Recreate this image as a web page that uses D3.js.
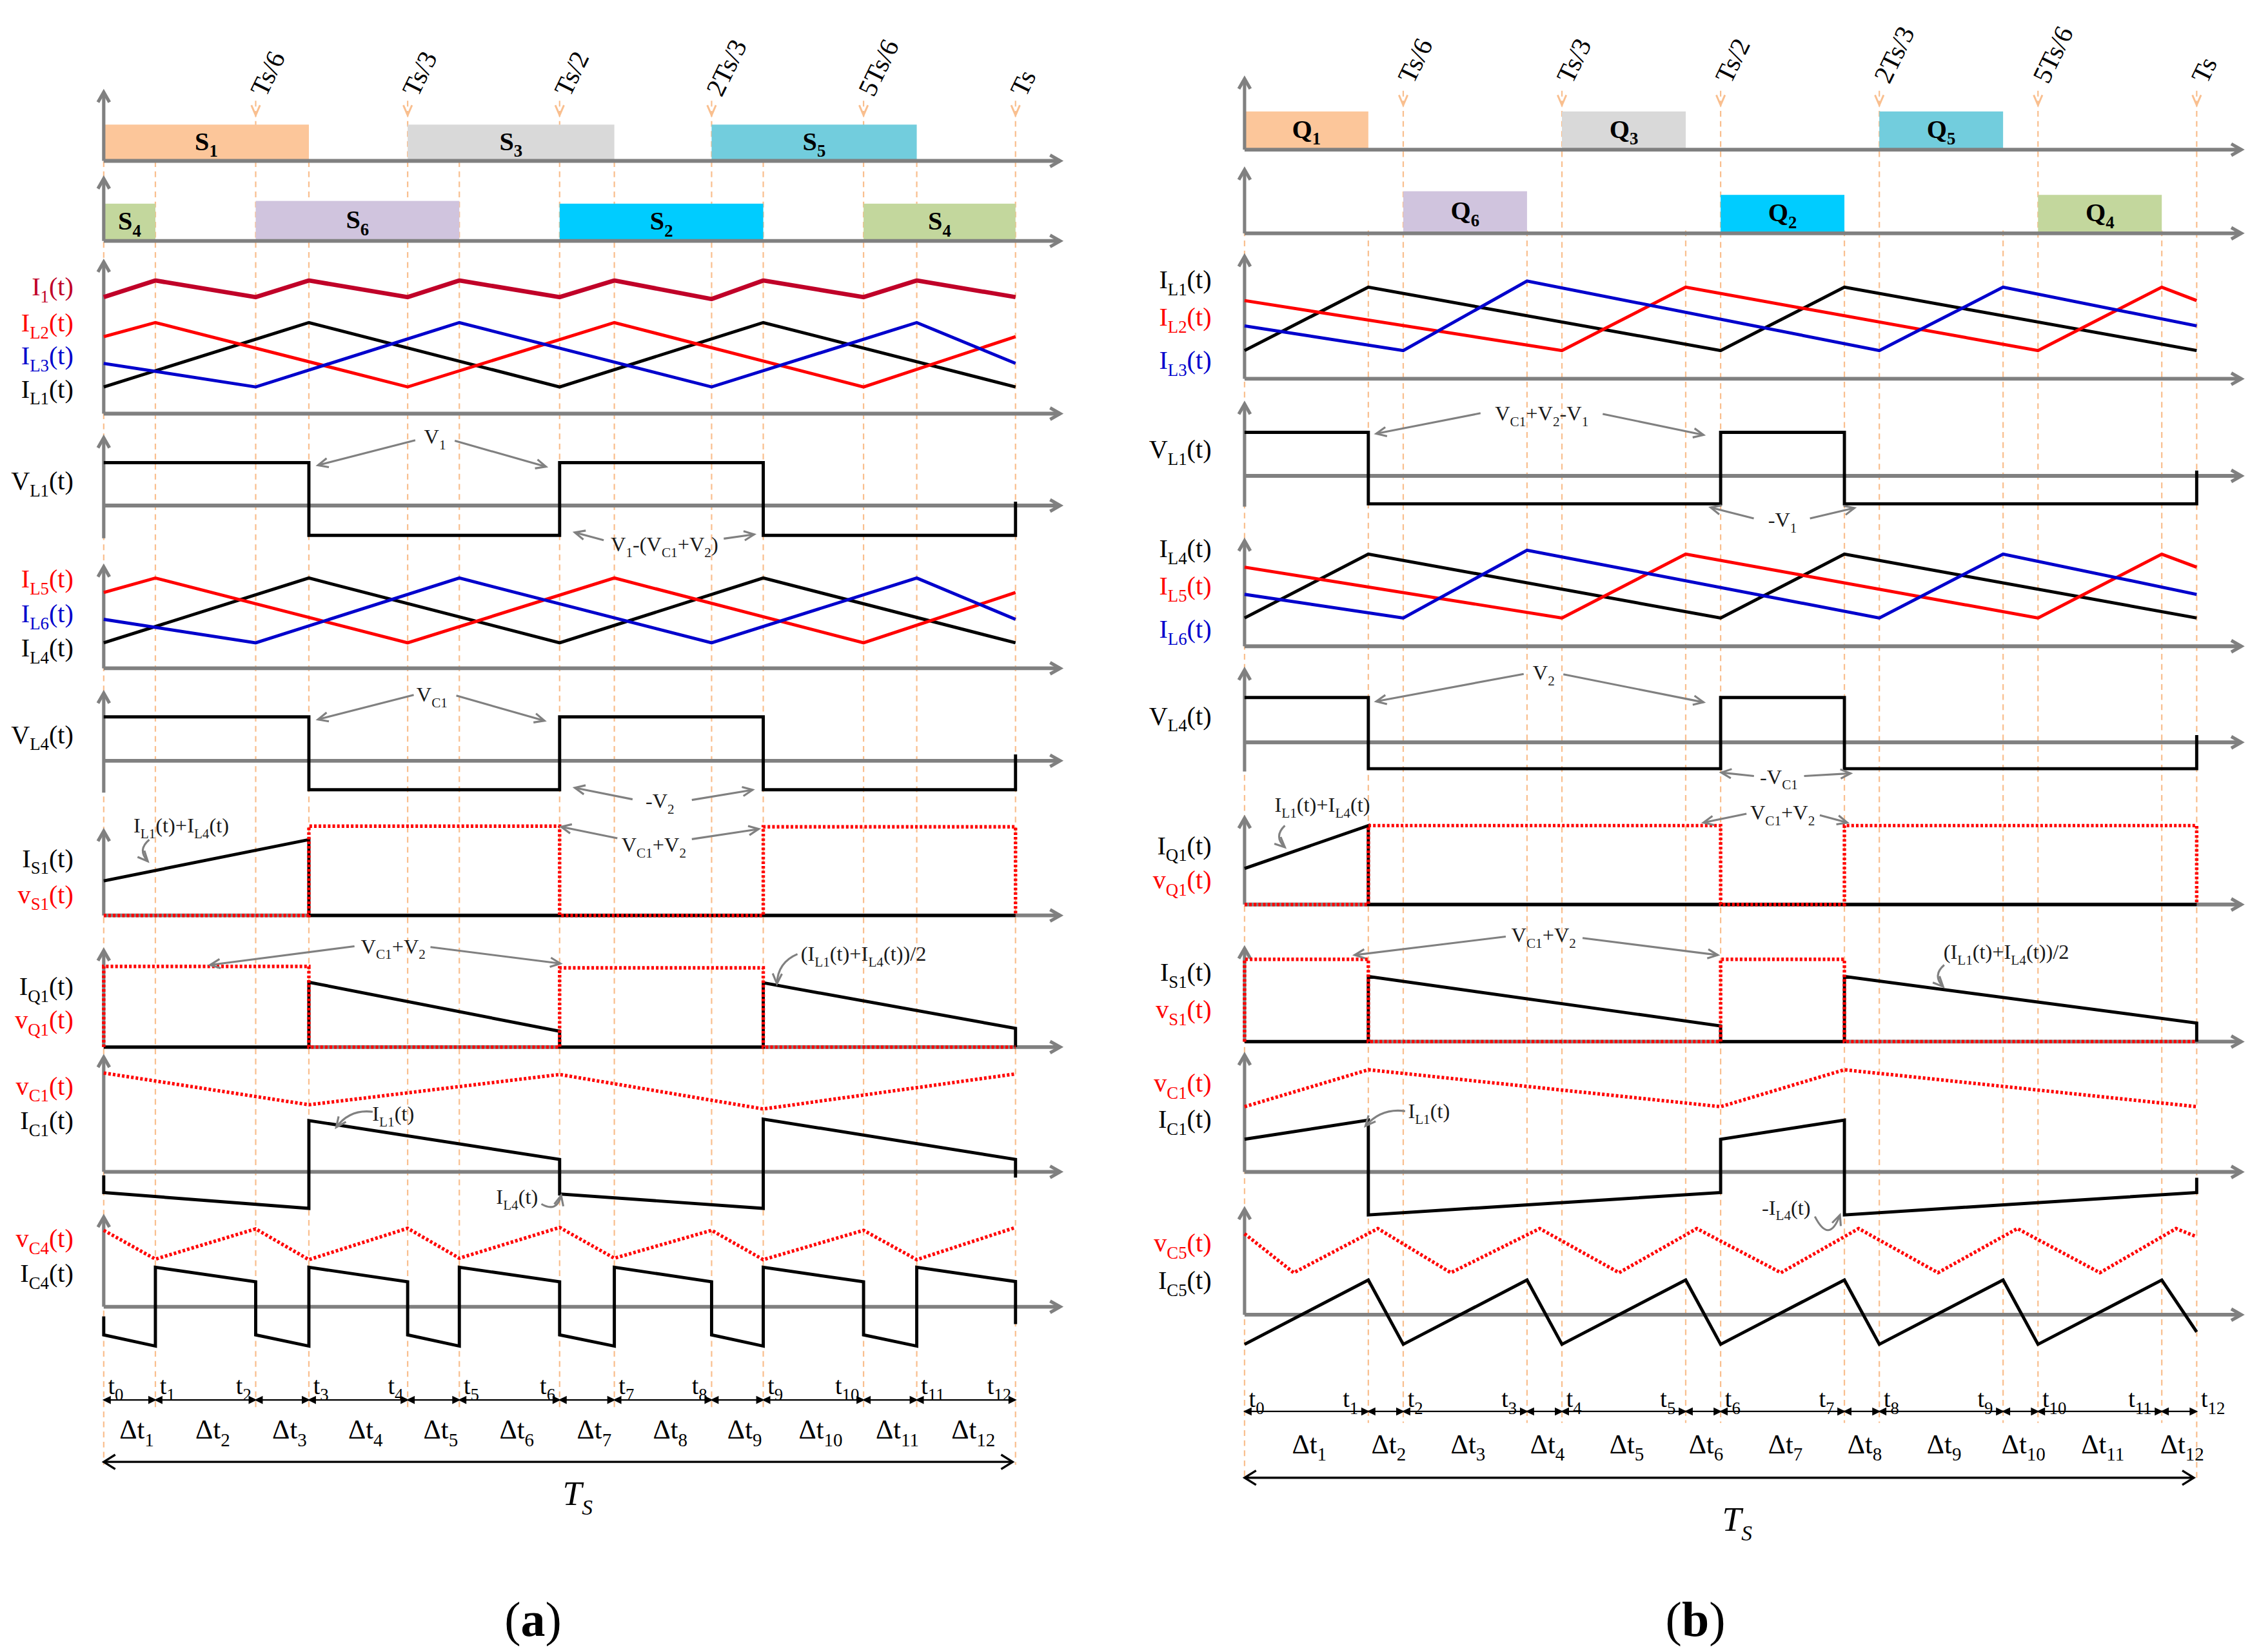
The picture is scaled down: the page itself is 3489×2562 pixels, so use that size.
<!DOCTYPE html>
<html><head><meta charset="utf-8">
<script src="https://cdn.jsdelivr.net/npm/d3@7"></script>
<style>html,body{margin:0;padding:0;background:#fff;}svg{display:block;}</style>
</head><body>
<svg id="chart"></svg>
<script>
// ================= DATA =================
// switching instants t0..t12 in units of Ts/6
const tA = [0,0.34,1,1.35,2,2.34,3,3.36,4,4.34,5,5.35,6];
const tB = [0,0.78,1,1.78,2,2.78,3,3.78,4,4.78,5,5.78,6];
const periodIdx = [2,4,6,8,10,12];
const periodLabels = ["Ts/6","Ts/3","Ts/2","2Ts/3","5Ts/6","Ts"];
const tLabels = d3.range(13).map(i => "t_{" + i + "}");
const dtLabels = d3.range(1,13).map(i => "\u0394t_{" + i + "}");

// gate signals: [name, on-instant, off-instant, level]
const gatesA1 = [["S1",0,3,52.8],["S3",4,7,52.8],["S5",8,11,52.8]];
const gatesA2 = [["S4",0,1,59.8],["S6",2,5,64.2],["S2",6,9,59.8],["S4",10,12,59.8]];
const gatesB1 = [["Q1",0,1,53.9],["Q3",4,5,53.9],["Q5",8,9,53.9]];
const gatesB2 = [["Q6",2,3,66.1],["Q2",6,7,60.4],["Q4",10,11,60.4]];

// waveforms: [instant index, level]
const A3_I1  = [[0,76.8],[1,87.7],[2,76.8],[3,87.7],[4,76.8],[5,87.7],[6,76.8],[7,87.7],[8,75.5],[9,87.7],[10,76.8],[11,87.7],[12,76.8]];
const A3_IL1 = [[0,17.6],[3,60],[6,17.6],[9,60],[12,17.6]];
const A3_IL2 = [[0,50.7],[1,60],[4,17.6],[7,60],[10,17.6],[12,50.7]];
const A3_IL3 = [[0,33.1],[2,17.6],[5,60],[8,17.6],[11,60],[12,33.1]];
const A4_VL1 = [[0,63.3],[3,63.3],[3,-43.9],[6,-43.9],[6,63.3],[9,63.3],[9,-43.9],[12,-43.9],[12,5.7]];
const A5_IL4 = [[0,25.1],[3,88.9],[6,25.1],[9,88.9],[12,25.1]];
const A5_IL5 = [[0,74.6],[1,88.9],[4,25.1],[7,88.9],[10,25.1],[12,74.6]];
const A5_IL6 = [[0,48.2],[2,25.1],[5,88.9],[8,25.1],[11,88.9],[12,48.2]];
const A6_VL4 = [[0,64.9],[3,64.9],[3,-42.8],[6,-42.8],[6,64.9],[9,64.9],[9,-42.8],[12,-42.8],[12,9.4]];
const A7_IS1 = [[0,41],[3,89.8],[3,0],[12,0]];
const A7_vS1 = [[0,0],[3,0],[3,105.8],[6,105.8],[6,0],[9,0],[9,105],[12,105],[12,0]];
const A8_IQ1 = [[0,0],[3,0],[3,67.2],[6,16.4],[6,0],[9,0],[9,66.6],[12,19.4],[12,0]];
const A8_vQ1 = [[0,0],[0,83.6],[3,83.6],[3,0],[6,0],[6,82.1],[9,82.1],[9,0],[12,0]];
const A9_vC1 = [[0,86.2],[3,58.5],[6,84.9],[9,54.8],[12,85.4]];
const A9_IC1 = [[0,-3],[0,-18.1],[3,-31.9],[3,44.7],[6,10.8],[6,-19.3],[9,-31.9],[9,46],[12,10.8],[12,-5]];
const A10_vC4 = [[0,85.2],[1,53.1],[2,86.8],[3,52.5],[4,87.5],[5,54.1],[6,88.4],[7,54.1],[8,85.2],[9,52.5],[10,85.2],[11,52.5],[12,88.4]];
const A10_IC4 = [[0,-10.8],[0,-31.3],[1,-43.8],[1,44],[2,27.8],[2,-31.3],[3,-43.8],[3,44],[4,27.8],[4,-31.3],[5,-43.8],[5,44],[6,27.8],[6,-31.3],[7,-43.8],[7,44],[8,27.8],[8,-31.3],[9,-43.8],[9,44],[10,27.8],[10,-31.3],[11,-43.8],[11,44],[12,28.1],[12,-19.4]];

const B3_IL1 = [[0,23.1],[1,74.8],[6,23.1],[7,74.8],[12,23.1]];
const B3_IL2 = [[0,63.9],[4,23.1],[5,74.8],[10,23.1],[11,74.8],[12,63.9]];
const B3_IL3 = [[0,43.2],[2,23.1],[3,79.8],[8,23.1],[9,74.8],[12,43.2]];
const B4_VL1 = [[0,60.5],[1,60.5],[1,-38.9],[6,-38.9],[6,60.5],[7,60.5],[7,-38.9],[12,-38.9],[12,7.4]];
const B5_IL4 = [[0,26.8],[1,87.4],[6,26.8],[7,87.4],[12,26.8]];
const B5_IL5 = [[0,75],[4,26.8],[5,87.4],[10,26.8],[11,87.4],[12,75]];
const B5_IL6 = [[0,49.2],[2,26.8],[3,91.1],[8,26.8],[9,87.4],[12,49.2]];
const B6_VL4 = [[0,61.8],[1,61.8],[1,-36.4],[6,-36.4],[6,61.8],[7,61.8],[7,-36.4],[12,-36.4],[12,10.1]];
const B7_IQ1 = [[0,41.7],[1,91.3],[1,0],[12,0]];
const B7_vQ1 = [[0,0],[1,0],[1,91.3],[6,91.3],[6,0],[7,0],[7,91.3],[12,91.3],[12,0]];
const B8_IS1 = [[0,0],[1,0],[1,69.9],[6,16.8],[6,0],[7,0],[7,69.9],[12,19.9],[12,0]];
const B8_vS1 = [[0,0],[0,88.3],[1,88.3],[1,0],[6,0],[6,88.3],[7,88.3],[7,0],[12,0]];
const B9_vC1 = [[0,55.8],[1,87.4],[6,55.8],[7,87.4],[12,55.8]];
const B9_IC1 = [[0,28],[1,44.3],[1,-36.7],[6,-17.6],[6,28],[7,44.3],[7,-36.7],[12,-17.6],[12,-5]];
const B10_IC5 = [[0,-28.1],[1,32.9],[2,-28.1],[3,32.9],[4,-28.1],[5,32.9],[6,-28.1],[7,32.9],[8,-28.1],[9,32.9],[10,-28.1],[11,32.9],[12,-16.4]];
// vC5 turning points are not at switching instants: [time in Ts/6, level]
const B10_vC5 = [[0,76.8],[0.31,39.8],[0.84,81.7],[1.30,39.8],[1.86,81.7],[2.36,39.8],[2.85,81.7],[3.38,39.8],[3.87,81.7],[4.37,39.8],[4.87,81.7],[5.39,39.8],[5.87,81.7],[6,73.9]];

// axis titles: [row, text, level, colour key]
const titlesA = [
 ["r3","I_{1}(t)",83.7,"dr"],["r3","I_{L2}(t)",60,"r"],["r3","I_{L3}(t)",38.1,"b"],["r3","I_{L1}(t)",16.3,"k"],
 ["r4","V_{L1}(t)",36.1,"k"],
 ["r5","I_{L5}(t)",87.9,"r"],["r5","I_{L6}(t)",53.9,"b"],["r5","I_{L4}(t)",19.9,"k"],
 ["r6","V_{L4}(t)",38.7,"k"],
 ["r7","I_{S1}(t)",67.6,"k"],["r7","v_{S1}(t)",24.9,"r"],
 ["r8","I_{Q1}(t)",62.7,"k"],["r8","v_{Q1}(t)",28.4,"r"],
 ["r9","v_{C1}(t)",74.9,"r"],["r9","I_{C1}(t)",44.7,"k"],
 ["r10","v_{C4}(t)",75.9,"r"],["r10","I_{C4}(t)",37.4,"k"]
];
const titlesB = [
 ["r3","I_{L1}(t)",81.2,"k"],["r3","I_{L2}(t)",50.6,"r"],["r3","I_{L3}(t)",15.3,"b"],
 ["r4","V_{L1}(t)",36.9,"k"],
 ["r5","I_{L4}(t)",92.5,"k"],["r5","I_{L5}(t)",57,"r"],["r5","I_{L6}(t)",16,"b"],
 ["r6","V_{L4}(t)",36.6,"k"],
 ["r7","I_{Q1}(t)",68.3,"k"],["r7","v_{Q1}(t)",28.3,"r"],
 ["r8","I_{S1}(t)",74.5,"k"],["r8","v_{S1}(t)",34.3,"r"],
 ["r9","v_{C1}(t)",76,"r"],["r9","I_{C1}(t)",45.2,"k"],
 ["r10","v_{C5}(t)",68,"r"],["r10","I_{C5}(t)",32.7,"k"]
];
// annotations: [row, text, time (Ts/6), level]
const notesA = [
 ["r4","V_{1}",2.18,101.9],["r4","V_{1}-(V_{C1}+V_{2})",3.69,-57.3],
 ["r6","V_{C1}",2.16,98.3],["r6","-V_{2}",3.66,-59.1],
 ["r7","I_{L1}(t)+I_{L4}(t)",0.51,106.8],["r7","V_{C1}+V_{2}",3.62,84],
 ["r8","V_{C1}+V_{2}",1.905,104.5],["r8","(I_{L1}(t)+I_{L4}(t))/2",5.0,97],
 ["r9","I_{L1}(t)",1.905,51],["r9","I_{L4}(t)",2.72,-21.9]
];
const notesB = [
 ["r4","V_{C1}+V_{2}-V_{1}",1.873,87.2],["r4","-V_{1}",3.39,-61.1],
 ["r6","V_{2}",1.885,96.2],["r6","-V_{C1}",3.367,-47.3],
 ["r7","I_{L1}(t)+I_{L4}(t)",0.49,115.3],["r7","V_{C1}+V_{2}",3.39,106.8],
 ["r8","V_{C1}+V_{2}",1.885,114.4],["r8","(I_{L1}(t)+I_{L4}(t))/2",4.80,96.6],
 ["r9","I_{L1}(t)",1.162,52],["r9","-I_{L4}(t)",3.413,-30.3]
];
// pointer arrows: [row, t from, level from, t to, level to, bend]
const pointersA = [
 ["r4",2.05,96.2,1.41,59.4,0],["r4",2.31,95.5,2.91,57.3,0],["r4",3.29,-51,3.10,-39.7,0],["r4",4.08,-48.8,4.28,-42.5,0],
 ["r6",2.04,97.2,1.41,61,0],["r6",2.32,96.2,2.90,59.1,0],["r6",3.48,-57,3.10,-40,0],["r6",3.87,-57.9,4.27,-43,0],
 ["r7",0.30,89.8,0.29,64.2,8],["r7",3.38,91.5,3.01,105,0],["r7",3.87,90.4,4.31,102.4,0],
 ["r8",1.65,104.5,0.70,85.1,0],["r8",2.15,103.6,3.005,86.6,0],["r8",4.565,96.4,4.43,65.7,8],
 ["r9",1.77,52.3,1.53,38.9,8],["r9",2.88,-28.1,3.01,-20.6,10]
];
const pointersB = [
 ["r4",1.487,87.2,0.83,58.7,0],["r4",2.257,86.2,2.892,56.9,0],["r4",3.209,-59.3,2.937,-43.9,0],["r4",3.563,-59.3,3.843,-44.7,0],
 ["r6",1.759,94.4,0.83,56.5,0],["r6",2.009,93.8,2.892,55.3,0],["r6",3.21,-46.5,3.004,-41.7,0],["r6",3.526,-46.5,3.819,-42.9,0],
 ["r7",0.254,91.3,0.254,66.3,8],["r7",3.163,105,2.892,94.8,0],["r7",3.625,103.3,3.798,94.8,0],
 ["r8",1.646,112.7,0.694,92.9,0],["r8",2.13,111.1,2.982,92.9,0],["r8",4.409,82.3,4.402,59,8],
 ["r9",1.012,52,0.762,39.3,8],["r9",3.594,-38.1,3.752,-36.8,20]
];
const tLabelSideA = ["r","r","l","r","l","r","l","r","l","r","l","r","l"];
const tLabelSideB = ["r","l","r","l","r","l","r","l","r","l","r","l","r"];

// ================= STYLE / LAYOUT =================
const FONT = '"Liberation Serif","Times New Roman",serif';
const GRAY = "#808080", ORANGE = "#F9BF8F";
const COLORS = {k:"#000000", r:"#FF0000", b:"#0000CC", dr:"#C00028"};
const GATE_FILL = {S1:"#FCC69A",Q1:"#FCC69A",S3:"#D9D9D9",Q3:"#D9D9D9",S5:"#72CDDD",Q5:"#72CDDD",
                   S4:"#C3D79D",Q4:"#C3D79D",S6:"#D0C4DE",Q6:"#D0C4DE",S2:"#00CCFF",Q2:"#00CCFF"};
const W = 1562, H = 1147;

const panels = [
 {t:tA, x0:72, x1:705, axisEnd:736, labelRight:51,
  rows:{r1:{base:111.7,top:64}, r2:{base:167.3,top:124}, r3:{base:287.2,top:181.8}, r4:{base:351,top:303.9,ext:true},
        r5:{base:464,top:393.5}, r6:{base:528.2,top:481.2,ext:true}, r7:{base:635.6,top:577}, r8:{base:727,top:660},
        r9:{base:813.6,top:734}, r10:{base:907.3,top:845}},
  gates:[["r1",gatesA1],["r2",gatesA2]],
  series:[
   {row:"r3",d:A3_IL1,c:"k"},{row:"r3",d:A3_IL2,c:"r"},{row:"r3",d:A3_IL3,c:"b"},{row:"r3",d:A3_I1,c:"dr",w:3},
   {row:"r4",d:A4_VL1,c:"k"},
   {row:"r5",d:A5_IL4,c:"k"},{row:"r5",d:A5_IL5,c:"r"},{row:"r5",d:A5_IL6,c:"b"},
   {row:"r6",d:A6_VL4,c:"k"},
   {row:"r7",d:A7_IS1,c:"k"},{row:"r7",d:A7_vS1,c:"r",dot:true},
   {row:"r8",d:A8_IQ1,c:"k"},{row:"r8",d:A8_vQ1,c:"r",dot:true},
   {row:"r9",d:A9_vC1,c:"r",dot:true},{row:"r9",d:A9_IC1,c:"k"},
   {row:"r10",d:A10_vC4,c:"r",dot:true},{row:"r10",d:A10_IC4,c:"k"}],
  titles:titlesA, notes:notesA, pointers:pointersA,
  arrowTop:70, arrowTip:80, oddTop:112, shortBottom:978, longBottom:1017, plOff:[7,-2],
  tLabelY:962, tSide:tLabelSideA, tLeftOff:-3, intervalY:972, dtY:993, dtShift:5, tsY:1015, tsLabel:[401,1037], panelLabel:[370,1125], name:"a"},
 {t:tB, x0:864, x1:1525, axisEnd:1556, labelRight:841,
  rows:{r1:{base:103.9,top:54.7}, r2:{base:162,top:117.8}, r3:{base:263,top:178}, r4:{base:330.4,top:280.5,ext:true},
        r5:{base:448.7,top:375.5}, r6:{base:515.4,top:465.1,ext:true}, r7:{base:628,top:568}, r8:{base:723.2,top:658.5},
        r9:{base:813.7,top:732.5}, r10:{base:912.8,top:839.6}},
  gates:[["r1",gatesB1],["r2",gatesB2]],
  series:[
   {row:"r3",d:B3_IL1,c:"k"},{row:"r3",d:B3_IL2,c:"r"},{row:"r3",d:B3_IL3,c:"b"},
   {row:"r4",d:B4_VL1,c:"k"},
   {row:"r5",d:B5_IL4,c:"k"},{row:"r5",d:B5_IL5,c:"r"},{row:"r5",d:B5_IL6,c:"b"},
   {row:"r6",d:B6_VL4,c:"k"},
   {row:"r7",d:B7_IQ1,c:"k"},{row:"r7",d:B7_vQ1,c:"r",dot:true},
   {row:"r8",d:B8_IS1,c:"k"},{row:"r8",d:B8_vS1,c:"r",dot:true},
   {row:"r9",d:B9_vC1,c:"r",dot:true},{row:"r9",d:B9_IC1,c:"k"},
   {row:"r10",d:B10_vC5,c:"r",dot:true,raw:true},{row:"r10",d:B10_IC5,c:"k"}],
  titles:titlesB, notes:notesB, pointers:pointersB,
  arrowTop:63, arrowTip:73, oddTop:160, shortBottom:988, longBottom:1027, plOff:[7,-4],
  tLabelY:971, tSide:tLabelSideB, tLeftOff:-7, intervalY:980, dtY:1003, dtShift:2, tsY:1026, tsLabel:[1206,1055], panelLabel:[1177,1125], name:"b"}
];

// ================= DRAW =================
const svg = d3.select("#chart").attr("width",3489).attr("height",2562)
  .attr("viewBox",`0 0 ${W} ${H}`).attr("font-family",FONT);
svg.append("rect").attr("width",W).attr("height",H).attr("fill","#fff");

function rich(sel, str, size, sub){
  const re = /_\{([^}]*)\}/g; let last = 0, m; const parts = [];
  while ((m = re.exec(str))) {
    if (m.index > last) parts.push({s:str.slice(last,m.index), sub:false});
    parts.push({s:m[1], sub:true}); last = re.lastIndex;
  }
  if (last < str.length) parts.push({s:str.slice(last), sub:false});
  const d = size*0.27; let shifted = false;
  parts.forEach(p => {
    const ts = sel.append("tspan").text(p.s).attr("font-size", p.sub ? sub : size);
    if (p.sub && !shifted) { ts.attr("dy", d); shifted = true; }
    else if (!p.sub && shifted) { ts.attr("dy", -d); shifted = false; }
  });
}
function head(g, tip, dir, len, half, color, width, filled){
  const n = Math.hypot(dir[0],dir[1]), ux = dir[0]/n, uy = dir[1]/n;
  const bx = tip[0]-ux*len, by = tip[1]-uy*len, px = -uy*half, py = ux*half;
  g.append("path").attr("d",`M${bx+px},${by+py}L${tip[0]},${tip[1]}L${bx-px},${by-py}` + (filled?"Z":""))
   .attr("fill", filled?color:"none").attr("stroke",color).attr("stroke-width",width);
}

panels.forEach(P => {
  const g = svg.append("g");
  const x = d3.scaleLinear().domain([0,6]).range([P.x0,P.x1]);
  const xt = i => x(P.t[i]);
  const ys = {};
  Object.entries(P.rows).forEach(([k,r]) => ys[k] = d3.scaleLinear().domain([0,100]).range([r.base, r.top]));

  // dashed instant lines
  P.t.forEach((tv,i) => {
    const isP = periodIdx.includes(i);
    g.append("line").attr("x1",xt(i)).attr("x2",xt(i))
     .attr("y1", isP ? P.arrowTop : P.oddTop)
     .attr("y2", (i===0||i===12) ? P.longBottom : P.shortBottom)
     .attr("stroke",ORANGE).attr("stroke-width",1).attr("stroke-dasharray","4 3");
  });
  // period markers
  periodIdx.forEach((i,k) => {
    const X = xt(i);
    head(g,[X,P.arrowTip],[0,1],7,3,ORANGE,1.3,false);
    g.append("text").attr("transform",`translate(${X+P.plOff[0]},${P.arrowTop+P.plOff[1]}) rotate(-64)`)
      .attr("font-size",18.5).text(periodLabels[k]);
  });
  // gate bars
  P.gates.forEach(([row,list]) => {
    const y = ys[row];
    list.forEach(([name,on,off,lev]) => {
      g.append("rect").attr("x",xt(on)).attr("width",xt(off)-xt(on))
       .attr("y",y(lev)).attr("height",y(0)-y(lev)).attr("fill",GATE_FILL[name]);
      const tx = g.append("text").attr("x",(xt(on)+xt(off))/2).attr("y",(y(0)+y(lev))/2+5)
        .attr("text-anchor","middle").attr("font-weight","bold").attr("font-size",18);
      rich(tx, name[0]+"_{"+name.slice(1)+"}", 18, 12);
    });
  });
  // axes
  Object.entries(P.rows).forEach(([k,r]) => {
    let vb = r.base;
    if (r.ext) {
      const mn = d3.min(P.series.filter(s=>s.row===k), s => d3.min(s.d, d=>d[1]));
      vb = ys[k](mn) + 2;
    }
    g.append("line").attr("x1",P.x0).attr("x2",P.x0).attr("y1",vb).attr("y2",r.top)
     .attr("stroke",GRAY).attr("stroke-width",2.3);
    head(g,[P.x0,r.top],[0,-1],7,4,GRAY,2.3,false);
    g.append("line").attr("x1",P.x0).attr("x2",P.axisEnd).attr("y1",r.base).attr("y2",r.base)
     .attr("stroke",GRAY).attr("stroke-width",2.6);
    head(g,[P.axisEnd,r.base],[1,0],7,4,GRAY,2.3,false);
  });
  // waveforms
  P.series.forEach(s => {
    const y = ys[s.row];
    const line = d3.line().x(d => s.raw ? x(d[0]) : xt(d[0])).y(d => y(d[1]));
    g.append("path").attr("d",line(s.d)).attr("fill","none").attr("stroke",COLORS[s.c])
     .attr("stroke-width", s.dot ? 2.4 : (s.w || 2.2))
     .attr("stroke-dasharray", s.dot ? "1.8 1.4" : null);
  });
  // axis titles
  P.titles.forEach(([r,str,v,c]) => {
    const tx = g.append("text").attr("x",P.labelRight).attr("y",ys[r](v)+6)
      .attr("text-anchor","end").attr("fill",COLORS[c]).attr("font-size",18);
    rich(tx,str,18,12);
  });
  // annotations
  P.notes.forEach(([r,str,u,v]) => {
    const tx = g.append("text").attr("x",x(u)).attr("y",ys[r](v)+5)
      .attr("text-anchor","middle").attr("fill","#1a1a1a").attr("font-size",14.5);
    rich(tx,str,14.5,9.5);
  });
  P.pointers.forEach(([r,u1,v1,u2,v2,bend]) => {
    const p1 = [x(u1), ys[r](v1)], p2 = [x(u2), ys[r](v2)];
    const dx = p2[0]-p1[0], dy = p2[1]-p1[1], L = Math.hypot(dx,dy);
    const c = [(p1[0]+p2[0])/2 - dy/L*bend, (p1[1]+p2[1])/2 + dx/L*bend];
    g.append("path").attr("d", bend ? `M${p1}Q${c} ${p2}` : `M${p1}L${p2}`)
     .attr("fill","none").attr("stroke",GRAY).attr("stroke-width",1.4);
    const dir = bend ? [p2[0]-c[0], p2[1]-c[1]] : [dx,dy];
    head(g,p2,dir,7,3.2,GRAY,1.4,false);
  });
  // instant labels
  P.t.forEach((tv,i) => {
    const right = P.tSide[i] === "r";
    const tx = g.append("text").attr("x", xt(i) + (right ? 3 : P.tLeftOff)).attr("y", P.tLabelY+6)
      .attr("text-anchor", right ? "start" : "end").attr("font-size",17);
    rich(tx, tLabels[i], 17, 12);
  });
  // interval arrows and labels
  d3.range(12).forEach(i => {
    const a = xt(i), b = xt(i+1), y = P.intervalY;
    g.append("line").attr("x1",a).attr("x2",b).attr("y1",y).attr("y2",y).attr("stroke","#000").attr("stroke-width",1);
    head(g,[a,y],[-1,0],4.5,2.2,"#000",0.8,true);
    head(g,[b,y],[1,0],4.5,2.2,"#000",0.8,true);
    const tx = g.append("text").attr("x",(a+b)/2 + P.dtShift).attr("y",P.dtY+6)
      .attr("text-anchor","middle").attr("font-size",19);
    rich(tx, dtLabels[i], 19, 13);
  });
  // Ts span arrow
  const ta = x(0), tb = x(6) - 2;
  g.append("line").attr("x1",ta).attr("x2",tb).attr("y1",P.tsY).attr("y2",P.tsY).attr("stroke","#000").attr("stroke-width",1.5);
  head(g,[ta,P.tsY],[-1,0],8,5,"#000",1.5,false);
  head(g,[tb,P.tsY],[1,0],8,5,"#000",1.5,false);
  const tsT = g.append("text").attr("x",P.tsLabel[0]).attr("y",P.tsLabel[1]+8)
    .attr("text-anchor","middle").attr("font-style","italic").attr("font-size",24);
  rich(tsT, "T_{S}", 24, 15);
  // panel label
  const pl = g.append("text").attr("x",P.panelLabel[0]).attr("y",P.panelLabel[1]+11)
    .attr("text-anchor","middle").attr("font-size",34);
  pl.append("tspan").text("(");
  pl.append("tspan").text(P.name).attr("font-weight","bold");
  pl.append("tspan").text(")");
});
</script>
</body></html>
